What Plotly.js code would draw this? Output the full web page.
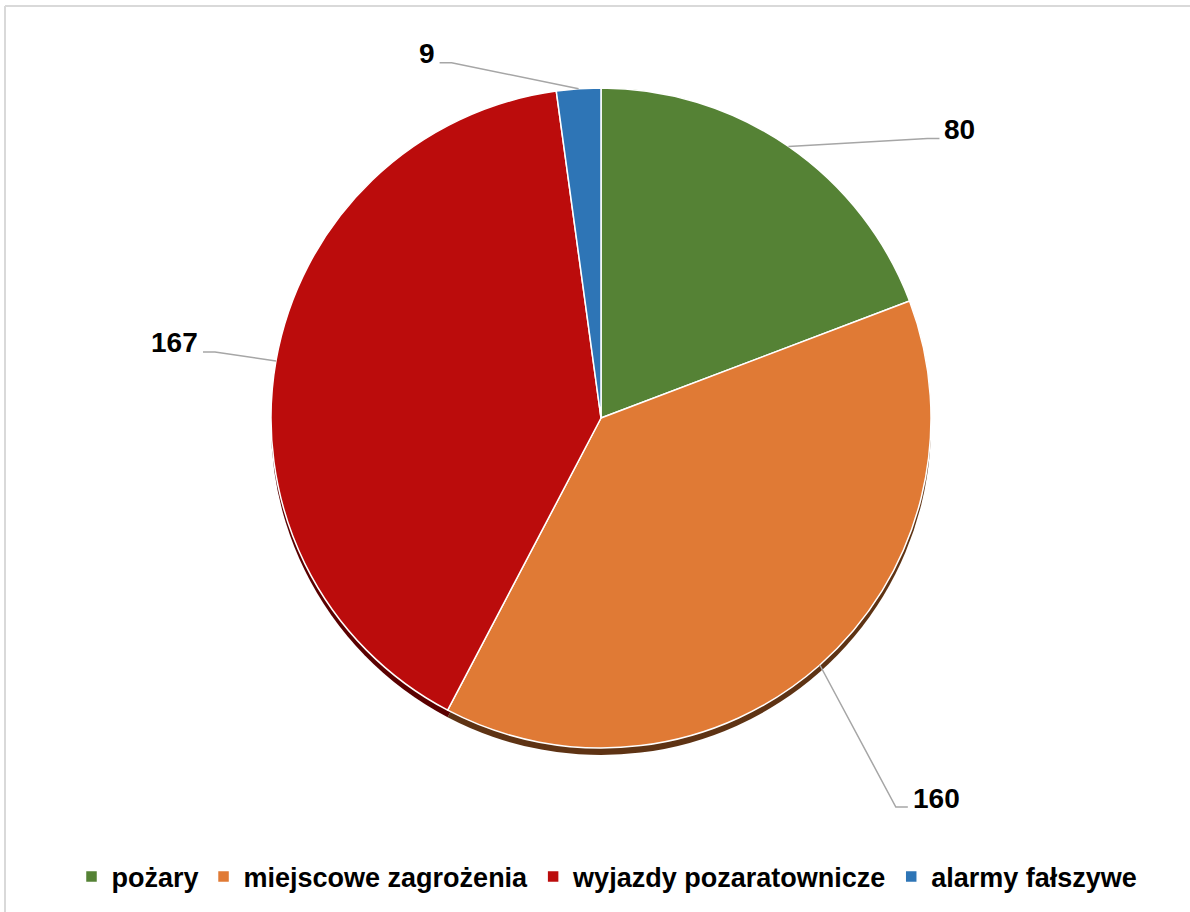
<!DOCTYPE html>
<html>
<head>
<meta charset="utf-8">
<script src="https://cdn.plot.ly/plotly-3.0.1.min.js"></script>
<style>
  html, body { margin: 0; padding: 0; background: #ffffff; }
  #chart { width: 1190px; height: 912px; }
</style>
</head>
<body>
<div id="chart"></div>
<script>
// ---- data ----
const categories = ['pożary', 'miejscowe zagrożenia', 'wyjazdy pozaratownicze', 'alarmy fałszywe'];
const values = [80, 160, 167, 9];
const valueLabels = values.map(v => String(v));

// ---- styles ----
const colors = ['#558235', '#e07a35', '#bb0c0c', '#2e75b6'];
const shadowColors = ['#2c4a1a', '#5e3314', '#5a0000', '#163a5c'];
const labelOffset = [[154, -17], [91, 133], [-76, -18], [-142, -35]];
const labelAnchor = ['left', 'left', 'right', 'right'];

const W = 1190, H = 912;
const M = { l: 0, r: 0, t: 88, b: 157 };
const plotW = W - M.l - M.r;
const plotH = H - M.t - M.b;          // 667
const shadowDrop = 7;
const R = (plotH - shadowDrop) / 2;   // 330
const cx = 601;
const cy = M.t + R;

const px2x = px => (px - M.l) / plotW;
const py2y = py => (H - M.b - py) / plotH;

const total = values.reduce((a, b) => a + b, 0);
let cum = 0;
const annotations = [];
const shapes = [];
values.forEach((v, i) => {
  const mid = (cum + v / 2) / total * 2 * Math.PI;
  cum += v;
  const ex = cx + R * Math.sin(mid);
  const ey = cy - R * Math.cos(mid);
  const lx = ex + labelOffset[i][0];
  const ly = ey + labelOffset[i][1];
  const dir = labelAnchor[i] === 'left' ? -1 : 1;
  const endX = lx + dir * 3, endY = ly + 9;
  const elbX = lx + dir * 15;
  shapes.push({
    type: 'path', xref: 'paper', yref: 'paper',
    path: `M${px2x(ex)},${py2y(ey)} L${px2x(elbX)},${py2y(endY)} L${px2x(endX)},${py2y(endY)}`,
    line: { color: '#a6a6a6', width: 1.5 }
  });
  annotations.push({
    xref: 'paper', yref: 'paper', x: px2x(lx), y: py2y(ly),
    xanchor: labelAnchor[i], yanchor: 'middle', showarrow: false,
    text: valueLabels[i],
    font: { family: 'Liberation Sans, Arial, sans-serif', size: 28, weight: 'bold', color: '#000000' }
  });
});

// frame (top and left border of the chart box)
shapes.push({ type: 'line', xref: 'paper', yref: 'paper',
  x0: px2x(5), y0: py2y(6), x1: px2x(1195), y1: py2y(6), line: { color: '#d9d9d9', width: 2 } });
shapes.push({ type: 'line', xref: 'paper', yref: 'paper',
  x0: px2x(5), y0: py2y(6), x1: px2x(5), y1: py2y(920), line: { color: '#d9d9d9', width: 2 } });

const domX = [(cx - R) / plotW, (cx + R) / plotW];

const shadowTrace = {
  type: 'pie', values: values, labels: categories.map(c => c + ' (cień)'),
  sort: false, direction: 'clockwise', rotation: 0,
  marker: { colors: shadowColors, line: { color: 'rgba(0,0,0,0)', width: 0 } },
  textinfo: 'none', hoverinfo: 'skip', showlegend: false,
  domain: { x: domX, y: [0, (plotH - shadowDrop) / plotH] }
};

const mainTrace = {
  type: 'pie', values: values, labels: categories,
  sort: false, direction: 'clockwise', rotation: 0,
  marker: { colors: colors, line: { color: '#ffffff', width: 1.5 } },
  textinfo: 'none', hoverinfo: 'label+value',
  domain: { x: domX, y: [shadowDrop / plotH, 1] }
};

const layout = {
  width: W, height: H,
  margin: M,
  paper_bgcolor: '#ffffff',
  plot_bgcolor: '#ffffff',
  showlegend: true,
  legend: {
    orientation: 'h', x: 607 / W, xref: 'paper',
    y: (H - 877) / H, yref: 'container',
    xanchor: 'center', yanchor: 'middle',
    font: { family: 'Liberation Sans, Arial, sans-serif', size: 27, weight: 'bold', color: '#000000' },
    itemwidth: 30, tracegroupgap: 0
  },
  annotations: annotations,
  shapes: shapes
};

Plotly.newPlot('chart', [shadowTrace, mainTrace], layout, { displayModeBar: false, staticPlot: true });
</script>
</body>
</html>
